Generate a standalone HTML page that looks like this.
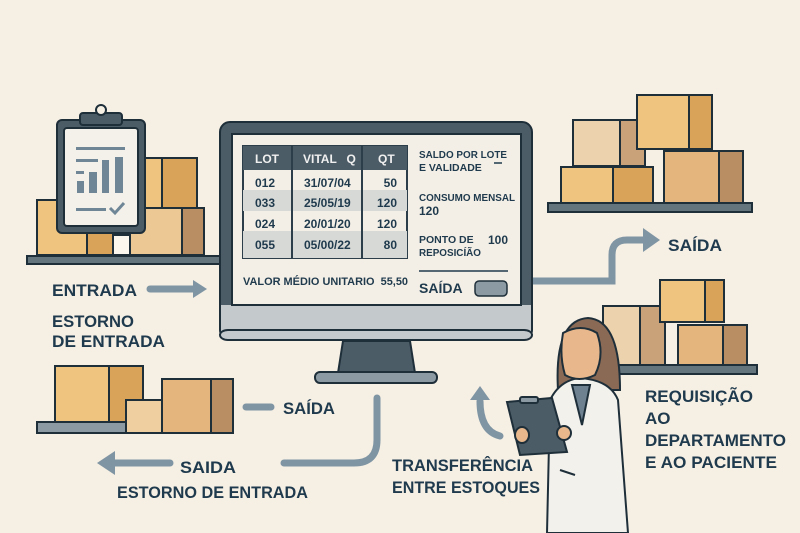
<!DOCTYPE html>
<html><head><meta charset="utf-8"><style>
html,body{margin:0;padding:0;background:#f6efe4}
svg{display:block}
text{font-family:"Liberation Sans",sans-serif;font-weight:bold;fill:#1f3a4d}
</style></head><body>
<svg width="800" height="533" viewBox="0 0 800 533" xmlns="http://www.w3.org/2000/svg">
<rect width="800" height="533" fill="#f6efe4"/>
<g stroke="#1f2f3a" stroke-width="2">
<rect x="37" y="200" width="50" height="55" fill="#eec47f"/>
<rect x="87" y="200" width="28" height="55" fill="#d9a45a"/>
<rect x="145" y="158" width="17" height="50" fill="#eec47f"/>
<rect x="162" y="158" width="35" height="50" fill="#d9a45a"/>
<rect x="130" y="208" width="52" height="47" fill="#ecc994"/>
<rect x="182" y="208" width="22" height="47" fill="#b98e62"/>
<rect x="113" y="235" width="17" height="20" fill="#fbf6ee"/>
<rect x="27" y="256" width="193" height="8" fill="#65757e"/>
<rect x="57" y="120" width="88" height="113" rx="5" fill="#4c5c66"/>
<rect x="64" y="128" width="74" height="98" rx="3" fill="#f4f1ea"/>
<rect x="80" y="113" width="42" height="12" rx="3" fill="#4c5c66"/>
<circle cx="101" cy="110" r="5" fill="#f6efe4"/>
</g>
<g fill="#6e8696">
<rect x="76" y="147" width="49" height="3"/><rect x="76" y="159" width="22" height="3"/>
<rect x="76" y="171" width="8" height="3"/><rect x="77" y="181" width="7" height="12"/>
<rect x="89" y="172" width="8" height="21"/><rect x="102" y="160" width="7" height="33"/>
<rect x="115" y="157" width="8" height="36"/><rect x="76" y="208" width="30" height="3"/>
</g>
<path d="M110 208l5 5 9-10" stroke="#6e8696" stroke-width="3" fill="none"/>
<g stroke="#1f2f3a" stroke-width="2">
<rect x="55" y="366" width="54" height="56" fill="#eec47f"/>
<rect x="109" y="366" width="34" height="56" fill="#d9a45a"/>
<rect x="126" y="400" width="37" height="33" fill="#efcf9f"/>
<rect x="163" y="400" width="13" height="33" fill="#c9a27a"/>
<rect x="162" y="379" width="49" height="54" fill="#e4b57c"/>
<rect x="211" y="379" width="22" height="54" fill="#b98e62"/>
<rect x="37" y="422" width="89" height="11" fill="#8c9ba3"/>
</g>
<g stroke="#1f2f3a" stroke-width="2">
<rect x="573" y="120" width="47" height="46" fill="#ecd2ad"/>
<rect x="620" y="120" width="25" height="46" fill="#c9a27a"/>
<rect x="561" y="167" width="52" height="36" fill="#eec47f"/>
<rect x="613" y="167" width="40" height="36" fill="#d9a45a"/>
<rect x="637" y="95" width="52" height="54" fill="#eec47f"/>
<rect x="689" y="95" width="23" height="54" fill="#d9a45a"/>
<rect x="664" y="151" width="55" height="52" fill="#e4b57c"/>
<rect x="719" y="151" width="24" height="52" fill="#b98e62"/>
<rect x="548" y="203" width="204" height="9" fill="#65757e"/>
<rect x="603" y="306" width="37" height="59" fill="#ecd2ad"/>
<rect x="640" y="306" width="25" height="59" fill="#c9a27a"/>
<rect x="660" y="280" width="45" height="42" fill="#eec47f"/>
<rect x="705" y="280" width="19" height="42" fill="#d9a45a"/>
<rect x="678" y="325" width="45" height="40" fill="#e4b57c"/>
<rect x="723" y="325" width="24" height="40" fill="#b98e62"/>
<rect x="605" y="365" width="152" height="9" fill="#65757e"/>
</g>
<g stroke="#7f95a3" stroke-width="7" fill="none" stroke-linecap="round">
<line x1="150" y1="289" x2="195" y2="289"/>
<line x1="246" y1="407" x2="271" y2="407"/>
<line x1="115" y1="463" x2="170" y2="463"/>
<path d="M377 398 V440 q0 23 -23 23 H284"/>
<path d="M532 281 H612 V255 q0 -15 15 -15 H645"/>
<path d="M500 436 q-20 -5 -20 -35"/>
</g>
<g fill="#7f95a3">
<polygon points="193,280 207,289 193,298"/>
<polygon points="97,463 115,451 115,475"/>
<polygon points="643,228 660,240 643,252"/>
<polygon points="470,400 480,386 490,400"/>
</g>
<rect x="220" y="122" width="312" height="218" rx="10" fill="#4c5c66" stroke="#1f2f3a" stroke-width="2"/>
<rect x="221" y="305" width="310" height="30" fill="#c4c9cc"/>
<rect x="220" y="330" width="312" height="10" rx="8" fill="#c4c9cc" stroke="#1f2f3a" stroke-width="2"/>
<rect x="232" y="134" width="289" height="171" fill="#f4efe6" stroke="#1f2f3a" stroke-width="2"/>
<polygon points="343,341 410,341 415,373 338,373" fill="#4c5c66" stroke="#1f2f3a" stroke-width="2"/>
<rect x="315" y="372" width="122" height="11" rx="5" fill="#8c9ba3" stroke="#1f2f3a" stroke-width="2"/>
<rect x="243" y="146" width="164" height="112" fill="#f4efe6" stroke="#2b3e4a" stroke-width="2"/>
<rect x="243" y="146" width="164" height="24" fill="#4c5c66"/>
<rect x="243" y="190" width="164" height="21" fill="#d7d9d6"/>
<rect x="243" y="231" width="164" height="27" fill="#d7d9d6"/>
<line x1="292" y1="146" x2="292" y2="258" stroke="#2b3e4a" stroke-width="2"/>
<line x1="362" y1="146" x2="362" y2="258" stroke="#2b3e4a" stroke-width="2"/>
<g style="font-size:12px">
<text x="255" y="163" style="fill:#f0f0f0">LOT</text>
<text x="303" y="163" style="fill:#f0f0f0">VITAL &#160;&#160;Q</text>
<text x="378" y="163" style="fill:#f0f0f0">QT</text>
</g>
<g style="font-size:12px;font-weight:normal">
<text x="255" y="187">012</text><text x="304" y="187">31/07/04</text><text x="397" y="187" text-anchor="end">50</text>
<text x="255" y="207">033</text><text x="304" y="207">25/05/19</text><text x="397" y="207" text-anchor="end">120</text>
<text x="255" y="228">024</text><text x="304" y="228">20/01/20</text><text x="397" y="228" text-anchor="end">120</text>
<text x="255" y="249">055</text><text x="304" y="249">05/00/22</text><text x="397" y="249" text-anchor="end">80</text>
</g>
<g style="font-size:10.5px">
<text x="419" y="158" textLength="88" lengthAdjust="spacingAndGlyphs">SALDO POR LOTE</text><text x="419" y="171">E VALIDADE</text>
<text x="419" y="201" textLength="96" lengthAdjust="spacingAndGlyphs">CONSUMO MENSAL</text><text x="419" y="215" style="font-size:12px">120</text>
<text x="419" y="243">PONTO DE</text><text x="419" y="256" textLength="62" lengthAdjust="spacingAndGlyphs">REPOSICÍÃO</text>
<text x="488" y="244" style="font-size:12px">100</text>
<text x="243" y="285" style="font-size:11px" textLength="165" lengthAdjust="spacingAndGlyphs">VALOR MÉDIO UNITARIO &#160;55,50</text>
</g>
<line x1="494" y1="163" x2="502" y2="163" stroke="#1f3a4d" stroke-width="1.5"/>
<line x1="419" y1="271" x2="508" y2="271" stroke="#1f3a4d" stroke-width="1.5"/>
<text x="419" y="293" style="font-size:14px">SAÍDA</text>
<rect x="475" y="281" width="32" height="15" rx="4" fill="#8c9ba3" stroke="#1f2f3a" stroke-width="1.5"/>
<g stroke="#1f2f3a" stroke-width="2">
<path d="M558 390 q-4 -70 30 -72 q32 2 32 72 z" fill="#8a6a55"/>
<path d="M547 533 L550 400 q10 -20 30 -22 q30 2 38 22 L628 533 z" fill="#f3f1ec"/>
<path d="M572 385 l18 0 l-8 40 z" fill="#6d8190"/>
<path d="M563 333 q18 -10 34 0 q8 22 -2 42 q-16 8 -30 0 q-6 -20 -2 -42z" fill="#e8b88c"/>
<line x1="560" y1="470" x2="575" y2="475"/>
<polygon points="507,402 552,398 567,452 520,455" fill="#4c5c66"/>
<rect x="520" y="397" width="18" height="6" rx="2" fill="#8c9ba3"/>
<ellipse cx="522" cy="435" rx="7" ry="8" fill="#e8b88c"/>
<ellipse cx="564" cy="433" rx="7" ry="7" fill="#e8b88c"/>
</g>
<g style="font-size:17px">
<text x="52" y="296" textLength="85" lengthAdjust="spacingAndGlyphs">ENTRADA</text>
<text x="52" y="327" textLength="82" lengthAdjust="spacingAndGlyphs">ESTORNO</text>
<text x="52" y="347" textLength="113" lengthAdjust="spacingAndGlyphs">DE ENTRADA</text>
<text x="283" y="414" textLength="52" lengthAdjust="spacingAndGlyphs">SAÍDA</text>
<text x="180" y="473" textLength="56" lengthAdjust="spacingAndGlyphs">SAIDA</text>
<text x="117" y="498" textLength="191" lengthAdjust="spacingAndGlyphs">ESTORNO DE ENTRADA</text>
<text x="392" y="471" textLength="141" lengthAdjust="spacingAndGlyphs">TRANSFERÊNCIA</text>
<text x="392" y="493" textLength="148" lengthAdjust="spacingAndGlyphs">ENTRE ESTOQUES</text>
<text x="668" y="251" textLength="54" lengthAdjust="spacingAndGlyphs">SAÍDA</text>
<text x="645" y="402" textLength="108" lengthAdjust="spacingAndGlyphs">REQUISIÇÃO</text>
<text x="645" y="424">AO</text>
<text x="645" y="446" textLength="141" lengthAdjust="spacingAndGlyphs">DEPARTAMENTO</text>
<text x="645" y="468" textLength="132" lengthAdjust="spacingAndGlyphs">E AO PACIENTE</text>
</g>
</svg>
</body></html>
